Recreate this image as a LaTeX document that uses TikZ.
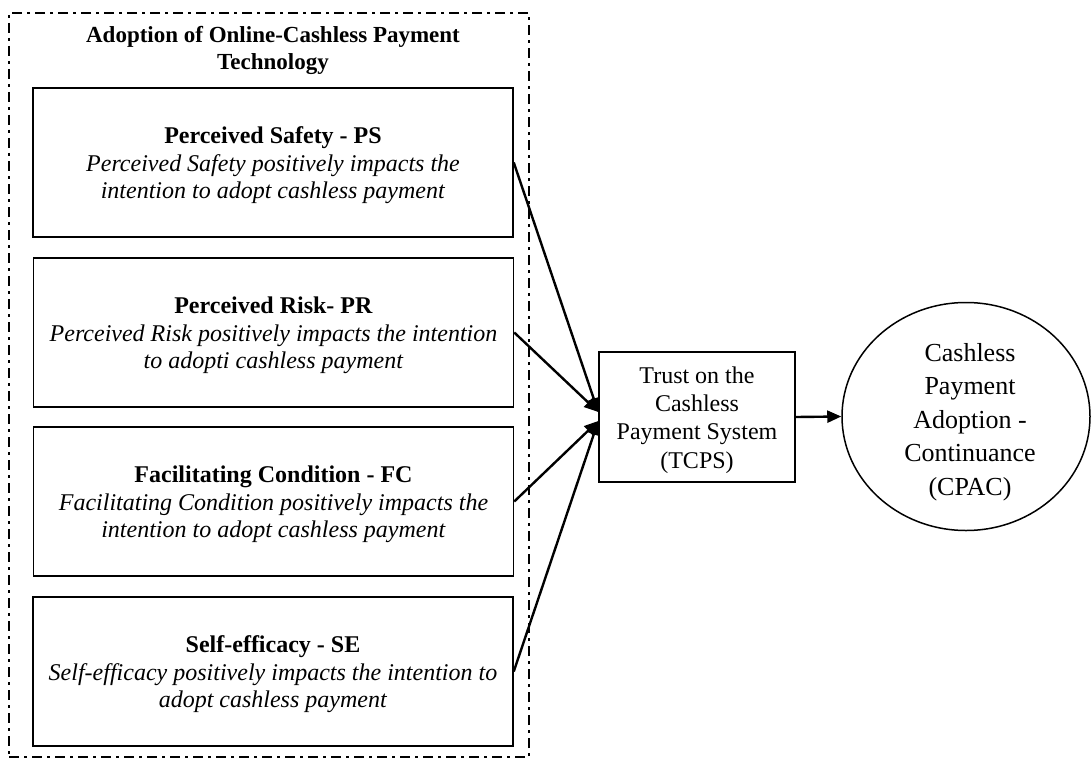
\documentclass[tikz,border=0pt]{standalone}
\usepackage{fontspec}
\setmainfont{Liberation Serif}
\usetikzlibrary{arrows.meta,shapes.geometric}
\begin{document}
\begin{tikzpicture}[x=0.5pt,y=-0.5pt,
  frame/.style={draw,line width=1pt,dash pattern=on 5pt off 2.5pt on 1.5pt off 2.5pt,
    minimum width=260pt,minimum height=372pt,inner sep=0pt},
  hbox/.style={draw,line width=0.75pt,minimum width=240pt,minimum height=74.5pt,inner sep=0pt},
  htext/.style={align=center,inner sep=0pt,font=\fontsize{12}{13.75}\selectfont},
  arr/.style={line width=1.2pt,-{Triangle[length=7pt,width=6pt]}},
  tbox/.style={draw,line width=0.75pt,minimum width=98pt,minimum height=65pt,inner sep=0pt},
  cell/.style={draw,ellipse,line width=0.75pt,minimum width=124pt,minimum height=114pt,inner sep=0pt}]
\useasboundingbox (0,0) rectangle (1091,765);
\node[frame] (fr) at (269,385) {};
\node[align=center,inner sep=0pt,font=\fontsize{11.5}{13.5}\selectfont\bfseries] (title) at (273,50)
  {Adoption of Online-Cashless Payment\\Technology};

\node[hbox] (b1) at (273,162.5) {};
\node[htext] (t1) at (273,165.5) {\textbf{Perceived Safety - PS}\\\textit{Perceived Safety positively impacts the}\\\textit{intention to adopt cashless payment}};
\node[hbox] (b2) at (273.5,332.5) {};
\node[htext] (t2) at (273.5,335.5) {\textbf{Perceived Risk- PR}\\\textit{Perceived Risk positively impacts the intention}\\\textit{to adopti cashless payment}};
\node[hbox] (b3) at (273.5,501.5) {};
\node[htext] (t3) at (273.5,504.5) {\textbf{Facilitating Condition - FC}\\\textit{Facilitating Condition positively impacts the}\\\textit{intention to adopt cashless payment}};
\node[hbox] (b4) at (273,671.5) {};
\node[htext] (t4) at (273,674.5) {\textbf{Self-efficacy - SE}\\\textit{Self-efficacy positively impacts the intention to}\\\textit{adopt cashless payment}};

\node[tbox] (tc) at (697,417) {};
\node[align=center,inner sep=0pt,font=\fontsize{12}{14.2}\selectfont] (tct) at (697,420)
  {Trust on the\\Cashless\\Payment System\\(TCPS)};

\node[cell] (cp) at (966,416.5) {};
\node[align=center,inner sep=0pt,font=\fontsize{13}{16.8}\selectfont] (cpt) at (970,422)
  {Cashless\\Payment\\Adoption -\\Continuance\\(CPAC)};

\coordinate (inA) at ([yshift=2.5pt]tc.west);
\coordinate (inB) at ([yshift=-2pt]tc.west);
\draw[arr] (b1.east) -- (inA);
\draw[arr] (b2.east) -- (inA);
\draw[arr] (b3.east) -- (inB);
\draw[arr] (b4.east) -- (inB);
\draw[arr] (tc.east) -- (cp.west);
\end{tikzpicture}
\end{document}
